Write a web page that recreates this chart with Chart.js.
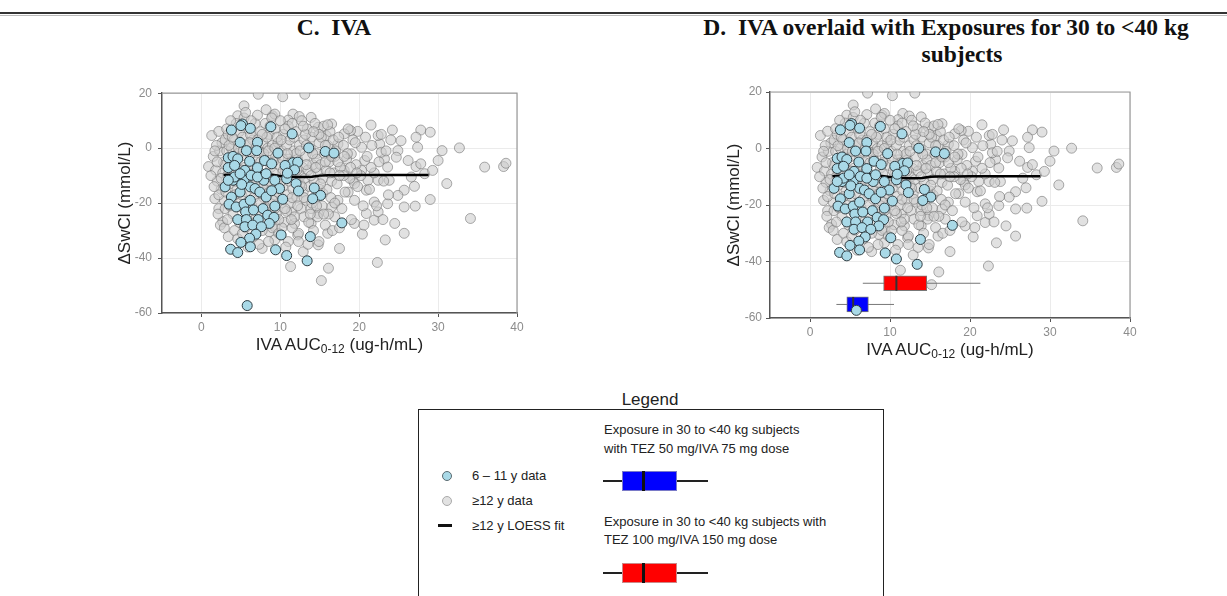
<!DOCTYPE html>
<html>
<head>
<meta charset="utf-8">
<script src="https://cdn.jsdelivr.net/npm/chart.js@4.4.1/dist/chart.umd.min.js"></script>
<style>
  body { margin: 0; width: 1227px; height: 596px; background: #fff; position: relative; overflow: hidden;
         font-family: 'Liberation Sans', Arial, sans-serif; color: #222; }
  .rule { position: absolute; left: 0; top: 12px; width: 1227px; height: 2px; background: #333; }
  .rule2 { position: absolute; left: 0; top: 15px; width: 1227px; height: 1px; background: #bbb; }
  .title { position: absolute; font-family: 'Liberation Serif', 'Times New Roman', serif; font-weight: bold;
           font-size: 23.5px; color: #111; text-align: center; line-height: 27px; white-space: nowrap; }
  .xt { position: absolute; font-size: 17px; color: #222; text-align: center; line-height: 20px; white-space: nowrap; }
  .xt sub { font-size: 12px; vertical-align: -3px; line-height: 0; }
  canvas { position: absolute; }
  .lt { position: absolute; font-size: 13px; line-height: 16px; white-space: nowrap; color: #222; }
  .abs { position: absolute; box-sizing: border-box; }
</style>
</head>
<body>
<div class="rule"></div><div class="rule2"></div>

<div class="title" style="left:134px;top:14px;width:400px;">C.&nbsp; IVA</div>
<div class="title" style="left:646px;top:14px;width:600px;">D.&nbsp; IVA overlaid with Exposures for 30 to &lt;40 kg</div>
<div class="title" style="left:762px;top:41px;width:400px;">subjects</div>

<canvas id="chartC" width="430" height="290" style="left:100px;top:80px"></canvas>
<canvas id="chartD" width="440" height="300" style="left:700px;top:80px"></canvas>

<div class="xt" style="left:162px;top:335px;width:355px;">IVA AUC<sub>0-12</sub> (ug-h/mL)</div>
<div class="xt" style="left:770px;top:340px;width:360px;">IVA AUC<sub>0-12</sub> (ug-h/mL)</div>

<!-- legend panel -->
<div class="lt" style="left:550px;top:390px;width:200px;text-align:center;font-size:17px;line-height:20px;">Legend</div>
<div class="abs" style="left:418px;top:409px;width:466px;height:200px;border:1.5px solid #222;"></div>

<div class="abs" style="left:442px;top:471px;width:10px;height:10px;border-radius:50%;background:#a9d9e7;border:1px solid #5a6a70;"></div>
<div class="lt" style="left:472px;top:468px;">6 – 11 y data</div>
<div class="abs" style="left:442px;top:496px;width:10px;height:10px;border-radius:50%;background:#e2e2e2;border:1px solid #aaa;"></div>
<div class="lt" style="left:472px;top:493px;">≥12 y data</div>
<div class="abs" style="left:438px;top:524px;width:14px;height:3px;background:#111;"></div>
<div class="lt" style="left:472px;top:518px;">≥12 y LOESS fit</div>

<div class="lt" style="left:604px;top:422px;">Exposure in 30 to &lt;40 kg subjects</div>
<div class="lt" style="left:604px;top:441px;">with TEZ 50 mg/IVA 75 mg dose</div>
<div class="abs" style="left:603px;top:480px;width:105px;height:1.5px;background:#222;"></div>
<div class="abs" style="left:622px;top:471px;width:55px;height:20px;background:#0000ff;border:1px solid #7a7ac8;"></div>
<div class="abs" style="left:642px;top:471px;width:2.5px;height:20px;background:#111;"></div>

<div class="lt" style="left:604px;top:514px;">Exposure in 30 to &lt;40 kg subjects with</div>
<div class="lt" style="left:604px;top:532px;">TEZ 100 mg/IVA 150 mg dose</div>
<div class="abs" style="left:603px;top:572px;width:105px;height:1.5px;background:#222;"></div>
<div class="abs" style="left:622px;top:563px;width:55px;height:20px;background:#ff0000;border:1px solid #c88;"></div>
<div class="abs" style="left:642px;top:563px;width:2.5px;height:20px;background:#111;"></div>

<script>
// axis ticks
const xTicks = [0, 10, 20, 30, 40];
const yTicks = [-60, -40, -20, 0, 20];

// 6 - 11 y subjects [AUC, change in sweat chloride]
const bluePoints = [
  [3.8, 6.6], [5.2, 8.8], [5.0, 8.2], [6.2, 7.2], [8.8, 7.8], [11.5, 5.2], [4.9, 2.1], [7.1, 2.1],
  [3.4, -3.5], [4.0, -3.0], [5.7, -0.9], [7.0, -0.9], [9.7, -1.8], [13.6, 0.1], [15.7, -1.2], [16.8, -1.8],
  [4.6, -3.9], [6.1, -4.8], [8.0, -4.5], [11.6, -5.3], [12.2, -5.1], [3.4, -7.1], [4.2, -6.3], [5.5, -8.1],
  [7.1, -7.1], [8.9, -5.7], [10.6, -6.3], [11.8, -7.9], [3.0, -14.1], [4.0, -11.7], [5.4, -11.7], [6.2, -14.1],
  [7.9, -11.7], [9.3, -11.7], [10.8, -11.1], [12.0, -12.9], [12.3, -15.6], [14.3, -14.5], [15.1, -17.2], [14.1, -18.4],
  [3.8, -17.8], [4.9, -16.0], [6.8, -14.7], [7.4, -16.0], [8.2, -17.8], [9.9, -14.7], [10.3, -18.6], [3.5, -20.4],
  [4.4, -21.4], [5.4, -20.4], [6.2, -19.0], [7.8, -22.0], [9.3, -21.1], [5.6, -23.2], [4.6, -26.0], [5.7, -26.0],
  [7.2, -26.0], [8.4, -24.4], [9.2, -25.2], [8.6, -27.4], [5.5, -28.6], [6.5, -28.0], [7.6, -28.6], [17.8, -27.2],
  [6.9, -31.3], [6.1, -32.8], [10.1, -31.6], [13.8, -32.2], [5.0, -34.3], [6.2, -35.9], [3.7, -36.8], [4.6, -38.0],
  [9.4, -37.0], [10.8, -39.1], [13.4, -41.0], [5.8, -57.3], [4.2, -10.5], [4.9, -9.3], [6.3, -9.9], [7.1, -10.5],
  [10.9, -9.1], [8.2, -9.3], [3.4, -11.7], [5.1, -13.2], [6.6, -22.5], [8.9, -15.5]
];

// >= 12 y subjects [AUC, change in sweat chloride]
const greyPoints = [
  [7.2, 19.6], [10.3, 18.7], [13.1, 19.6], [5.4, 15.4], [4.6, 11.8], [11.6, 12.4], [9.0, 11.8], [1.3, 4.6],
  [2.2, 6.1], [0.9, -6.7], [1.7, -18.4], [2.2, -22.0], [2.7, -26.8], [3.4, -32.2], [7.7, -36.5], [11.3, -43.1],
  [12.9, -37.7], [15.2, -48.2], [16.1, -43.7], [17.5, -36.5], [19.4, -27.4], [20.4, -31.3], [22.3, -41.6], [23.3, -33.4],
  [24.5, -27.4], [25.7, -31.0], [27.1, -21.1], [29.0, -18.7], [31.1, -12.9], [30.5, -0.9], [32.7, 0.1], [34.1, -25.6],
  [35.9, -6.9], [38.3, -6.7], [38.6, -5.5], [29.0, 5.8], [27.8, 6.6], [27.2, 4.0], [24.2, 6.6], [21.5, 8.4],
  [19.8, 6.1], [18.9, 6.4], [16.5, 8.8], [27.2, -6.7], [28.3, -9.3], [26.2, -4.5], [24.9, -0.9], [23.2, -3.9],
  [22.6, 1.5], [22.4, 4.6], [22.8, -1.5], [24.7, -3.3], [27.0, -13.9], [25.7, -15.3], [24.9, -17.2], [25.7, -21.4],
  [23.6, -20.2], [21.9, -19.6], [20.9, -23.8], [21.9, -26.2], [22.4, -23.2], [20.9, -15.3], [21.1, -11.7], [20.3, -8.1],
  [19.2, -11.7], [18.6, -16.0], [17.3, -19.0], [16.5, -21.4], [18.1, -8.1], [19.0, -2.1], [20.3, 0.3], [17.3, 1.5],
  [18.1, 5.2], [15.8, 4.6], [14.8, 7.6], [13.9, 11.2], [15.4, -16.5], [14.8, -23.8], [13.9, -27.4], [11.8, -27.4],
  [12.2, -31.6], [11.0, -34.0], [11.4, -23.2], [9.3, -33.4], [8.6, -30.4], [9.3, -28.6], [16.0, -31.0], [14.8, -35.2],
  [16.9, -25.0], [19.4, -12.9], [20.7, -4.5], [22.4, -11.7], [23.8, -11.7], [26.6, -10.5], [27.8, -5.7], [27.4, 0.3],
  [25.3, 2.7], [23.6, -6.9], [30.0, -4.5], [29.3, -8.1], [9.3, 12.4], [11.0, 10.2], [12.4, 11.5], [8.2, 14.0],
  [1.5, -3], [1.8, -8], [2.0, -12], [2.3, -1], [2.5, -15], [2.6, 2], [2.8, -5], [2.9, -19],
  [1.2, -10], [2.1, -24], [2.7, -9], [1.9, 1], [2.4, -28], [3.0, 3], [2.2, -17], [1.6, -14],
  [2.9, -29], [3.0, -22], [3.2, -1], [3.4, 5], [3.5, -8], [3.6, -13], [3.8, 0], [3.9, -18],
  [4.0, -24], [4.1, 3], [4.2, -30], [4.3, -6], [4.4, 9], [4.5, -15], [4.6, -2], [4.7, -20],
  [4.8, 6], [4.9, -11], [3.3, -26], [3.7, 10], [4.0, -4], [4.6, -33], [3.1, -16], [4.8, -27],
  [3.5, 1], [4.3, -9], [5.0, -3], [5.1, -17], [5.2, 4], [5.3, -22], [5.4, 11], [5.5, -7],
  [5.6, -29], [5.7, 1], [5.8, -12], [5.9, -36], [6.0, 7], [6.1, -19], [6.2, -2], [6.3, -25],
  [6.4, -9], [6.5, 3], [6.6, -14], [6.7, -32], [6.8, 9], [6.9, -5], [5.2, -31], [5.6, 13],
  [6.0, -10], [6.4, -21], [6.8, -27], [5.4, -13], [6.2, 5], [6.6, -1], [7.0, -8], [7.1, 12],
  [7.2, -16], [7.3, -1], [7.4, -23], [7.5, 6], [7.6, -11], [7.7, -30], [7.8, 2], [7.9, -18],
  [8.0, -4], [8.1, 9], [8.2, -26], [8.3, -13], [8.4, 0], [8.5, -34], [8.6, 5], [8.7, -20],
  [8.8, -7], [8.9, 11], [9.0, -29], [7.3, -35], [7.8, -14], [8.3, 4], [8.8, -24], [7.5, -5],
  [8.0, -10], [8.6, -16], [7.1, 3], [9.0, 1], [9.1, -9], [9.2, -17], [9.3, 7], [9.4, -3],
  [9.5, -24], [9.6, -12], [9.7, 2], [9.8, -31], [9.9, -6], [10.0, 10], [10.1, -20], [10.2, -1],
  [10.3, -14], [10.4, 5], [10.5, -27], [10.6, -9], [10.7, -36], [10.8, 1], [10.9, -17], [11.0, -4],
  [9.3, -22], [9.9, -13], [10.4, -8], [10.8, -23], [11.0, 8], [9.6, 4], [10.2, -29], [11.1, -12],
  [11.2, 3], [11.3, -20], [11.4, -7], [11.5, 9], [11.6, -15], [11.7, -1], [11.8, -25], [11.9, -10],
  [12.0, 6], [12.1, -18], [12.2, -4], [12.3, -31], [12.4, 1], [12.5, -13], [12.6, -22], [12.7, 10],
  [12.8, -7], [12.9, -16], [13.0, 3], [11.5, -29], [12.0, -2], [12.6, -10], [13.0, -25], [11.3, -5],
  [12.3, -34], [13.1, -11], [13.2, -3], [13.3, -19], [13.4, 7], [13.5, -8], [13.6, -27], [13.7, -14],
  [13.8, 0], [13.9, -22], [14.0, 4], [14.1, -6], [14.2, -30], [14.3, -12], [14.4, 9], [14.5, -18],
  [14.6, -2], [14.7, -25], [14.8, -9], [14.9, 2], [15.0, -15], [13.5, -35], [14.0, -20], [14.6, -4],
  [13.2, 5], [14.9, -34], [15.1, -6], [15.2, 4], [15.3, -21], [15.4, -11], [15.5, 8], [15.6, -2],
  [15.7, -28], [15.8, -8], [15.9, -15], [16.0, 1], [16.1, -24], [16.2, -5], [16.3, 6], [16.4, -18],
  [16.5, -12], [16.6, -30], [16.7, 3], [16.8, -9], [16.9, -20], [17.0, -1], [16.0, 8.5], [15.5, -24],
  [17.2, -13], [17.4, 4], [17.6, -7], [17.8, -22], [18.0, 1], [18.2, -16], [18.4, -4], [18.6, 7],
  [18.8, -11], [19.0, -26], [19.2, 3], [19.4, -19], [19.6, -6], [19.8, -14], [17.5, -29], [18.5, -2],
  [19.5, 2], [18.0, -10], [20.2, -10], [20.5, -21], [20.8, 4], [21.0, -3], [21.3, -15], [21.6, 1],
  [21.9, -9], [22.2, -21], [22.5, -5], [22.8, 5], [23.1, -12], [23.4, -1], [23.7, -17], [24.0, 3],
  [20.6, -28], [21.5, -7], [23.0, -26],
  [3.3, -10], [3.9, -6], [4.4, -12], [5.1, -8], [5.7, -16], [6.3, -6], [6.9, -12], [7.4, -9],
  [7.9, -2], [8.5, -12], [9.1, -5], [9.7, -16], [10.3, -4], [10.9, -11], [11.5, -18], [12.1, -8],
  [12.7, -14], [13.3, -6], [13.9, -10], [14.5, -7], [15.1, -13], [15.7, -5], [16.3, -9], [16.9, -3],
  [17.5, -10], [3.6, -21], [4.2, -17], [5.8, -24], [6.6, -18], [7.3, -20], [8.1, -22], [9.0, -19],
  [9.8, -26], [10.6, -22], [11.4, -26], [12.2, -21], [13.0, -18], [13.8, -24], [14.6, -21], [3.0, -6],
  [3.9, 4], [4.7, 0], [5.3, -1], [6.1, 2], [6.9, 0], [7.7, 5], [8.5, -1], [9.3, 0],
  [10.1, 3], [10.9, -2], [11.7, 4], [12.5, -1], [13.3, 1], [14.1, -2], [14.9, 5], [15.7, 1],
  [16.5, -3], [17.3, -5], [18.1, -3], [18.9, -7], [19.7, -9], [2.5, -11], [2.0, -5], [1.7, -1],
  [3.2, 7], [6.3, 10], [8.7, 8], [10.6, 7], [12.9, 8], [14.2, 6]
];

// >= 12 y LOESS fit
const loessX = [2.8, 4, 5, 6, 7, 8, 9, 10, 11, 12, 13, 14, 15, 16, 18, 20, 22, 24, 26, 28.8];
const loessY = [-9.8, -9.6, -9.3, -9.0, -9.0, -9.3, -9.7, -10.1, -10.3, -10.5, -10.5, -10.4, -10.0, -9.9, -9.9, -9.8, -9.8, -9.8, -9.8, -9.8];

// exposure box plots for 30 to <40 kg subjects
const boxLabels = ['TEZ 50 mg/IVA 75 mg', 'TEZ 100 mg/IVA 150 mg'];
const boxY = [-55.2, -47.7];
const boxWhiskerLo = [3.3, 6.6];
const boxQ1 = [4.6, 9.2];
const boxMedian = [5.4, 10.8];
const boxQ3 = [7.3, 14.6];
const boxWhiskerHi = [10.5, 21.3];
const boxColors = ['#0000ff', '#ff0000'];

const family = "'Liberation Sans', Arial, sans-serif";

// grey top/right frame like ggplot's panel border
const panelBorder = {
  id: 'panelBorder',
  beforeDatasetsDraw(chart) {
    const { ctx, chartArea: a } = chart;
    ctx.save();
    ctx.strokeStyle = '#9a9a9a';
    ctx.lineWidth = 1.2;
    ctx.beginPath();
    ctx.moveTo(a.left, a.top);
    ctx.lineTo(a.right, a.top);
    ctx.lineTo(a.right, a.bottom);
    ctx.stroke();
    ctx.restore();
  }
};

function makeChart(id, withBoxes, yWidth, xHeight, padRight, titlePad, tickPad) {
  const datasets = [];
  datasets.push({
    type: 'scatter', label: '6 – 11 y data',
    data: bluePoints.map(p => ({ x: p[0], y: p[1] })),
    backgroundColor: '#a9d9e7', borderColor: '#2e3c42', borderWidth: 1, pointRadius: 5, order: 0
  });
  datasets.push({
    type: 'scatter', label: '≥12 y LOESS fit',
    data: loessX.map((x, i) => ({ x: x, y: loessY[i] })),
    showLine: true, borderColor: '#000', borderWidth: 2.5, pointRadius: 0, order: 1
  });
  if (withBoxes) {
    boxY.forEach((y, i) => {
      datasets.push({
        type: 'scatter', label: boxLabels[i] + ' median',
        data: [{ x: boxMedian[i], y: y }],
        pointStyle: 'line', rotation: 90, pointRadius: 7.5, borderColor: '#333', borderWidth: 2, order: 2
      });
      datasets.push({
        type: 'bar', indexAxis: 'y', label: boxLabels[i],
        data: [{ x: [boxQ1[i], boxQ3[i]], y: y }],
        backgroundColor: boxColors[i], borderColor: '#777', borderWidth: 1, borderSkipped: false,
        barThickness: 15, grouped: false, order: 3
      });
      datasets.push({
        type: 'scatter', label: boxLabels[i] + ' whiskers',
        data: [{ x: boxWhiskerLo[i], y: y }, { x: boxWhiskerHi[i], y: y }],
        showLine: true, borderColor: '#777', borderWidth: 1, pointRadius: 0, order: 4
      });
    });
  }
  datasets.push({
    type: 'scatter', label: '≥12 y data',
    data: greyPoints.map(p => ({ x: p[0], y: p[1] })),
    backgroundColor: 'rgba(205,205,205,0.6)', borderColor: 'rgba(105,105,105,0.55)', borderWidth: 1,
    pointRadius: 5, order: 5
  });

  return new Chart(document.getElementById(id), {
    type: 'scatter',
    data: { datasets: datasets },
    plugins: [panelBorder],
    options: {
      responsive: false,
      animation: false,
      layout: { padding: { top: 12, right: padRight, left: 0, bottom: 0 } },
      plugins: { legend: { display: false }, tooltip: { enabled: false } },
      scales: {
        x: {
          type: 'linear', min: -5, max: 40, offset: false, beginAtZero: false,
          afterBuildTicks: s => { s.ticks = xTicks.map(v => ({ value: v })); },
          afterFit: s => { s.height = xHeight; },
          grid: { color: '#ebebeb', lineWidth: 1, tickColor: '#555', tickLength: 4, offset: false },
          border: { color: '#555', width: 1.5 },
          ticks: { color: '#8c8c8c', font: { size: 12, family: family }, padding: 3, maxRotation: 0 }
        },
        y: {
          type: 'linear', min: -60, max: 20, offset: false, beginAtZero: false,
          afterBuildTicks: s => { s.ticks = yTicks.map(v => ({ value: v })); },
          afterFit: s => { s.width = yWidth; },
          grid: { color: '#ebebeb', lineWidth: 1, tickColor: '#555', tickLength: 4, offset: false },
          border: { color: '#555', width: 1.5 },
          ticks: { color: '#8c8c8c', font: { size: 12, family: family }, padding: tickPad },
          title: {
            display: true, text: 'ΔSwCl (mmol/L)', color: '#222',
            font: { size: 17, family: family }, padding: { top: titlePad, bottom: 0 }
          }
        }
      }
    }
  });
}

makeChart('chartC', false, 62, 57, 13, 15, 6);
makeChart('chartD', true, 70, 62, 10, 24, 4);
</script>
</body>
</html>
